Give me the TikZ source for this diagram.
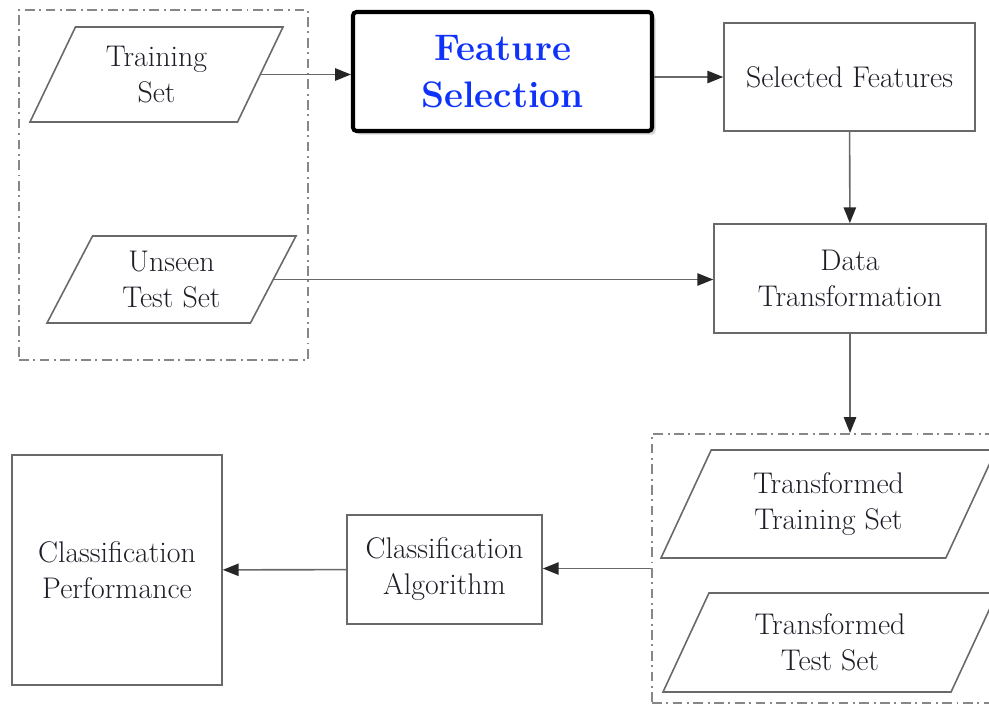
\documentclass[tikz,border=0pt]{standalone}
\usepackage{xcolor}
\usepackage{tikz}
\usetikzlibrary{shapes.geometric, positioning, arrows.meta, shadows}
\definecolor{FSBlue}{RGB}{15,50,250}
\definecolor{LnGray}{RGB}{105,105,105}
\definecolor{GrpGray}{RGB}{135,135,135}
\definecolor{TxtDark}{RGB}{30,30,40}

\begin{document}
\begin{tikzpicture}[
          font=\fontsize{17}{20.5}\selectfont, text=TxtDark,
          pbx/.style={rectangle, draw=LnGray, line width=0.9pt, fill=white,
                      align=center, inner sep=2pt},
          setp/.style={trapezium, trapezium left angle=53, trapezium right angle=127,
                       trapezium stretches body, draw=LnGray, line width=0.9pt,
                       fill=white, align=center, inner sep=1pt},
          grp/.style={rectangle, draw=GrpGray, line width=1.1pt,
                      dash pattern=on 5.5pt off 2.6pt on 1.1pt off 2.6pt},
          fbx/.style={rectangle, rounded corners=2pt, draw=black, line width=2.3pt,
                      fill=white, align=center, text=FSBlue,
                      font=\fontsize{21}{27}\selectfont\bfseries,
                      drop shadow={shadow xshift=2pt, shadow yshift=-2pt, opacity=0.35}},
          arr/.style={-{Triangle[length=9pt, width=7pt, color=black!85]}, draw=LnGray, line width=0.9pt}
        ]
        \path[use as bounding box, clip] (0,0) rectangle (19.78,14.1);

        \node[grp, minimum width=5.78cm, minimum height=7.0cm] (inputs) at (3.27, 10.4) {};
        \node[grp, minimum width=6.96cm, minimum height=5.38cm] (tbox) at (16.52, 2.73) {};

        \node[setp, minimum width=5.06cm, minimum height=1.9cm]  (train)  at (3.13, 12.61) {Training\\Set};
        \node[setp, minimum width=4.98cm, minimum height=1.74cm] (unseen) at (3.43, 8.51) {Unseen\\Test Set};

        \node[fbx, minimum width=5.98cm, minimum height=2.38cm] (feat) at (10.05, 12.67) {Feature\\Selection};

        \node[pbx, minimum width=5.02cm, minimum height=2.16cm] (sel)  at (16.99, 12.56) {Selected Features};
        \node[pbx, minimum width=5.44cm, minimum height=2.18cm] (data) at (17.0, 8.53) {Data\\Transformation};

        \node[setp, minimum width=6.7cm, minimum height=2.16cm]  (trtrain) at (16.57, 4.02) {Transformed\\Training Set};
        \node[setp, minimum width=6.68cm, minimum height=1.98cm] (trtest)  at (16.6, 1.25)  {Transformed\\Test Set};

        \node[pbx, minimum width=3.9cm, minimum height=2.18cm] (algo) at (8.89, 2.71) {Classification\\Algorithm};
        \node[pbx, minimum width=4.2cm, minimum height=4.6cm]  (perf) at (2.34, 2.7)  {Classification\\Performance};

        \draw[arr] (train.east) -- (train.east -| feat.west);
        \draw[arr] (feat.east |- sel.west) -- (sel.west);
        \draw[arr] (sel) -- (data);
        \draw[arr] (unseen.east) -- (unseen.east -| data.west);
        \draw[arr] (data) -- (data |- tbox.north);
        \draw[arr] (tbox.west) -- (tbox.west -| algo.east);
        \draw[arr] (algo) -- (perf);
      \end{tikzpicture}
\end{document}
